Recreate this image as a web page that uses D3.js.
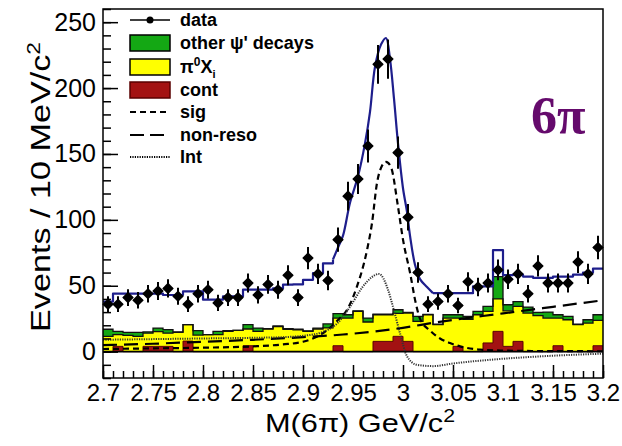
<!DOCTYPE html>
<html><head><meta charset="utf-8">
<script src="https://cdn.jsdelivr.net/npm/d3@7"></script>
<style>
body{margin:0;background:#fff}
svg{display:block;font-family:"Liberation Sans",Arial,Helvetica,sans-serif}
</style>
</head><body>
<svg id="c" width="622" height="446"></svg>
<script>
// ---------- data ----------
const binCenters = [2.705,2.715,2.725,2.735,2.745,2.755,2.765,2.775,2.785,2.795,
  2.805,2.815,2.825,2.835,2.845,2.855,2.865,2.875,2.885,2.895,
  2.905,2.915,2.925,2.935,2.945,2.955,2.965,2.975,2.985,2.995,
  3.005,3.015,3.025,3.035,3.045,3.055,3.065,3.075,3.085,3.095,
  3.105,3.115,3.125,3.135,3.145,3.155,3.165,3.175,3.185,3.195];
const dataCounts = [36,36,41,39,44,46,48,42,36,44,47,37,41,41,52,43,51,47,58,41,
  71,59,54,85,118,131,156,218,222,151,102,60,36,38,44,35,53,49,52,62,
  55,59,44,65,52,52,52,68,59,79];
const cont = [0,4,0,0,4,4,4,0,8,0,0,0,0,0,4.5,0,0,0,0,0,
  0,0,0,4.5,0,0,0,7.8,7.8,11.6,7.8,0,0,0,0,4,0,0,6.6,15.4,
  4,7.8,0,0,0,4.5,0,0,0,4.5];
const pi0Xi = [11.6,8.9,12.4,11.6,10,11.2,10,14.6,12.5,12.6,12.9,12.9,15.4,16.2,12.7,15.4,17.2,19,17,16.5,
  15.4,17.2,18,21,25.5,30.6,22.5,20.2,20.2,17.4,21.5,23,28,20.5,25.5,21.5,24.5,28,24,24.6,
  27,26.5,29.3,27.3,25.5,21,24.2,20.5,21.7,19.2];
const otherPsi = [5.4,2.5,2.2,3,1,2.7,2.7,0.4,0,3.3,0,2.5,0.6,0,3.3,2.5,0.3,0.5,0.5,0.5,
  0.4,0.6,3,3.3,2.5,0.4,3,0.5,0.5,2.8,0.5,3.8,0.3,0.3,2.5,2.5,2.3,2.6,3.7,17,
  4.6,3.7,4.5,2.5,4.5,2.5,2.6,0.3,2.5,4.3];

// total fit: step part (bins 1-23 and 34-50) and smooth peak part
const fitLeftBins = [38,44,44,44,44,44,43,43,45.7,45.7,39.4,39.4,42,42,47,47,47,48,50.8,51,54.5,59.6,67];
const fitRightBins = [44.4,44.4,44.4,44.4,49.5,49.5,77,58,58.5,57,56,56,57,57,58.5,60,63];
const fitPeakX = [2.93,2.935,2.94,2.947,2.955,2.962,2.967,2.972,2.978,2.983,2.987,2.991,2.995,3.0,3.004,3.007,3.012,3.017,3.024,3.03];
const fitPeakY = [70,79,88,113,133,158,182,216,233,238,222,192,158,124,106,88,66,55,49,44.4];

const sigX = [2.70,2.75,2.80,2.85,2.88,2.90,2.92,2.935,2.945,2.954,2.964,2.969,2.974,2.979,2.983,2.988,2.995,3.0,3.007,3.013,3.017,3.027,3.037,3.047,3.057,3.077,3.10,3.15,3.20];
const sigY = [2,2.5,3,4,5.5,7.5,14,24,33,49.5,77,97.5,128,141,144,140,110,85,60,36,25,16,10,6.5,4,1.5,0.8,0.4,0.3];
const nonResoX = [2.70,2.75,2.80,2.85,2.90,2.94,2.99,3.04,3.10,3.15,3.20];
const nonResoY = [5,6,7.5,9,11,13,17,23,29,34,39];
const intX = [2.70,2.75,2.80,2.85,2.88,2.90,2.92,2.935,2.947,2.96,2.968,2.976,2.985,2.99,2.997,3.004,3.014,3.03,3.05,3.09,3.14,3.20];
const intY = [9,9.5,10,10.5,11,12,15,22,34,49.5,56,59,47,34,14,-3.5,-10,-11,-9,-6,-3.5,-1.5];

const xTickValues = [2.7,2.75,2.8,2.85,2.9,2.95,3.0,3.05,3.1,3.15,3.2];
const xTickLabels = ["2.7","2.75","2.8","2.85","2.9","2.95","3","3.05","3.1","3.15","3.2"];
const yTickValues = [0,50,100,150,200,250];
const yTickLabels = ["0","50","100","150","200","250"];

// ---------- drawing ----------
const svg = d3.select("#c");
const binW = 0.01;
const x = d3.scaleLinear().domain([2.7, 3.2]).range([103, 603]);
const y = d3.scaleLinear().domain([-20, 260]).range([378, 9]);

const COL_GREEN = "#14a814", COL_YELLOW = "#ffff00", COL_RED = "#a31212";

// stacked histograms
const rows = binCenters.map((c, i) => ({c, cont: cont[i], pi0: pi0Xi[i], other: otherPsi[i]}));
const stack = d3.stack().keys(["cont", "pi0", "other"])(rows);
function stepPts(layer) {
  const pts = layer.map((d, i) => ({x: binCenters[i] - binW/2, y0: d[0], y1: d[1]}));
  const last = layer[layer.length - 1];
  pts.push({x: binCenters[binCenters.length - 1] + binW/2, y0: last[0], y1: last[1]});
  return pts;
}
const area = d3.area().curve(d3.curveStepAfter).x(d => x(d.x)).y0(d => y(d.y0)).y1(d => y(d.y1));
const topLine = d3.line().curve(d3.curveStepAfter).x(d => x(d.x)).y(d => y(d.y1));
const fills = [COL_RED, COL_YELLOW, COL_GREEN];
const strokes = ["#5a0000", "#111", "#111"];
stack.forEach((layer, k) => {
  svg.append("path").attr("d", area(stepPts(layer))).attr("fill", fills[k]).attr("stroke", "none");
});
stack.forEach((layer, k) => {
  svg.append("path").attr("d", topLine(stepPts(layer))).attr("fill", "none")
    .attr("stroke", strokes[k]).attr("stroke-width", k === 0 ? 1 : 1.3);
});
// zero line
svg.append("line").attr("x1", x(2.7)).attr("x2", x(3.2)).attr("y1", y(0)).attr("y2", y(0))
  .attr("stroke", "#000").attr("stroke-width", 1.6);

// component curves
const curveLine = d3.line().curve(d3.curveMonotoneX).x(d => x(d[0])).y(d => y(d[1]));
svg.append("path").attr("d", curveLine(nonResoX.map((v, i) => [v, nonResoY[i]])))
  .attr("fill", "none").attr("stroke", "#000").attr("stroke-width", 2.2).attr("stroke-dasharray", "14,7");
svg.append("path").attr("d", curveLine(sigX.map((v, i) => [v, sigY[i]])))
  .attr("fill", "none").attr("stroke", "#000").attr("stroke-width", 2.2).attr("stroke-dasharray", "6,4");
svg.append("path").attr("d", curveLine(intX.map((v, i) => [v, intY[i]])))
  .attr("fill", "none").attr("stroke", "#333").attr("stroke-width", 2).attr("stroke-dasharray", "1.2,1.2");

// total fit
const lin = d3.line().x(d => x(d[0])).y(d => y(d[1]));
const leftPts = [];
fitLeftBins.forEach((v, i) => { leftPts.push([binCenters[i] - binW/2, v]); leftPts.push([binCenters[i] + binW/2, v]); });
leftPts.push([fitPeakX[0], fitPeakY[0]]);
const rightPts = [[fitPeakX[fitPeakX.length-1], fitPeakY[fitPeakY.length-1]]];
const off = binCenters.length - fitRightBins.length;
fitRightBins.forEach((v, i) => { rightPts.push([binCenters[off+i] - binW/2, v]); rightPts.push([binCenters[off+i] + binW/2, v]); });
const peakLine = d3.line().curve(d3.curveCatmullRom).x(d => x(d[0])).y(d => y(d[1]));
const fitG = svg.append("g").attr("fill", "none").attr("stroke", "#1e1e8c").attr("stroke-width", 2.2).attr("stroke-linejoin", "round");
fitG.append("path").attr("d", lin(leftPts));
fitG.append("path").attr("d", peakLine(fitPeakX.map((v, i) => [v, fitPeakY[i]])));
fitG.append("path").attr("d", lin(rightPts));

// data points
const dg = svg.append("g");
binCenters.forEach((c, i) => {
  const n = dataCounts[i], e = Math.sqrt(n);
  dg.append("line").attr("x1", x(c)).attr("x2", x(c)).attr("y1", y(n - e)).attr("y2", y(n + e))
    .attr("stroke", "#000").attr("stroke-width", 2);
  dg.append("line").attr("x1", x(c) - 4.5).attr("x2", x(c) + 4.5).attr("y1", y(n)).attr("y2", y(n))
    .attr("stroke", "#000").attr("stroke-width", 2);
  dg.append("path").attr("d", d3.symbol(d3.symbolDiamond2, 85)()).attr("transform", `translate(${x(c)},${y(n)})`)
    .attr("fill", "#000");
});

// frame
svg.append("rect").attr("x", x(2.7)).attr("y", y(260)).attr("width", x(3.2) - x(2.7)).attr("height", y(-20) - y(260))
  .attr("fill", "none").attr("stroke", "#000").attr("stroke-width", 1.5);

// axes
const xAxis = d3.axisBottom(x).tickValues(xTickValues).tickFormat((d, i) => xTickLabels[i])
  .tickSizeInner(-13).tickSizeOuter(0).tickPadding(6);
const gx = svg.append("g").attr("transform", `translate(0,${y(-20)})`).call(xAxis);
gx.select(".domain").remove();
gx.selectAll(".tick line").attr("stroke-width", 1.5);
gx.selectAll("text").attr("font-size", 24).attr("fill", "#000").style("font-family", '"Liberation Sans",Arial,sans-serif');
const xMinor = d3.axisBottom(x).ticks(50).tickFormat("").tickSizeInner(-7).tickSizeOuter(0);
const gxm = svg.append("g").attr("transform", `translate(0,${y(-20)})`).call(xMinor);
gxm.select(".domain").remove();
gxm.selectAll(".tick line").attr("stroke-width", 1.5);

const yAxis = d3.axisLeft(y).tickValues(yTickValues).tickFormat((d, i) => yTickLabels[i])
  .tickSizeInner(-15).tickSizeOuter(0).tickPadding(7);
const gy = svg.append("g").attr("transform", `translate(${x(2.7)},0)`).call(yAxis);
gy.select(".domain").remove();
gy.selectAll(".tick line").attr("stroke-width", 1.5);
gy.selectAll("text").attr("font-size", 25).attr("fill", "#000").style("font-family", '"Liberation Sans",Arial,sans-serif');
const yMinor = d3.axisLeft(y).tickValues(d3.range(-20, 261, 10)).tickFormat("").tickSizeInner(-8).tickSizeOuter(0);
const gym = svg.append("g").attr("transform", `translate(${x(2.7)},0)`).call(yMinor);
gym.select(".domain").remove();
gym.selectAll(".tick line").attr("stroke-width", 1.5);

// axis titles
const yt = svg.append("text").attr("transform", "translate(50,187) rotate(-90)")
  .attr("text-anchor", "middle").attr("font-size", 27).attr("fill", "#000")
  .attr("textLength", 290).attr("lengthAdjust", "spacingAndGlyphs");
yt.append("tspan").text("Events / 10 MeV/c");
yt.append("tspan").attr("dy", -10).attr("font-size", 18).text("2");

const xt = svg.append("text").attr("x", 360).attr("y", 432)
  .attr("text-anchor", "middle").attr("font-size", 26).attr("fill", "#000")
  .attr("textLength", 190).attr("lengthAdjust", "spacingAndGlyphs");
xt.append("tspan").text("M(6π) GeV/c");
xt.append("tspan").attr("dy", -10).attr("font-size", 18).text("2");

// 6π label
svg.append("text").attr("x", 531).attr("y", 133)
  .style("font-family", "'Liberation Serif','DejaVu Serif',serif")
  .attr("font-weight", "bold").attr("font-size", 52).attr("fill", "#650a6c").text("6π");

// legend
const legX0 = 130, legX1 = 170, legTx = 180;
const legY = [20, 43, 67, 90, 112, 135, 157];
const lg = svg.append("g");
const legText = (i) => lg.append("text").attr("x", legTx).attr("y", legY[i] + 6)
  .attr("font-size", 18).attr("font-weight", "bold").attr("fill", "#000");
// data
lg.append("line").attr("x1", legX0).attr("x2", legX1).attr("y1", legY[0]).attr("y2", legY[0]).attr("stroke", "#000").attr("stroke-width", 1.6);
lg.append("circle").attr("cx", (legX0 + legX1) / 2).attr("cy", legY[0]).attr("r", 3.5).attr("fill", "#000");
legText(0).text("data");
// boxes
[[1, COL_GREEN], [2, COL_YELLOW], [3, COL_RED]].forEach(([i, c]) => {
  lg.append("rect").attr("x", legX0).attr("y", legY[i] - 8).attr("width", legX1 - legX0).attr("height", 16)
    .attr("fill", c).attr("stroke", i === 3 ? "#5a0000" : "#000").attr("stroke-width", 1.5);
});
legText(1).text("other ψ' decays");
const t2 = legText(2);
t2.append("tspan").text("π");
t2.append("tspan").attr("dy", -7).attr("font-size", 12).text("0");
t2.append("tspan").attr("dy", 7).text("X");
t2.append("tspan").attr("dy", 5).attr("font-size", 11).text("i");
legText(3).text("cont");
const lineSty = [[4, "6,4", 2.2], [5, "14,6", 2.2], [6, "1.2,1.2", 2]];
lineSty.forEach(([i, da, w]) => {
  lg.append("line").attr("x1", legX0).attr("x2", legX1).attr("y1", legY[i]).attr("y2", legY[i])
    .attr("stroke", "#000").attr("stroke-width", w).attr("stroke-dasharray", da);
});
legText(4).text("sig");
legText(5).text("non-reso");
legText(6).text("Int");
</script>
</body></html>
